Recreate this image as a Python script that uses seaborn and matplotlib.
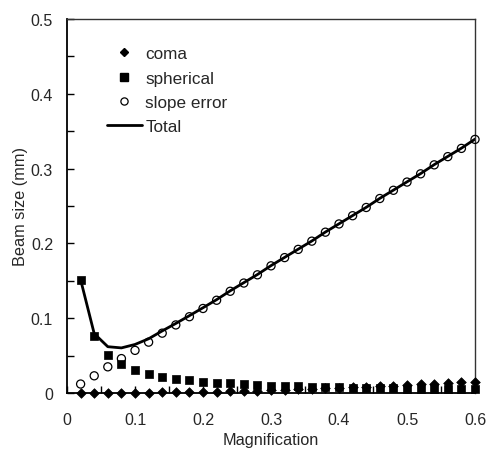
import matplotlib
matplotlib.use("Agg")
import matplotlib.pyplot as plt
import seaborn as sns
import pandas as pd
from matplotlib.lines import Line2D
from matplotlib.ticker import MultipleLocator, FuncFormatter

# valeurs
magnification = [0.02, 0.04, 0.06, 0.08, 0.10, 0.12, 0.14, 0.16, 0.18, 0.20,
                 0.22, 0.24, 0.26, 0.28, 0.30, 0.32, 0.34, 0.36, 0.38, 0.40,
                 0.42, 0.44, 0.46, 0.48, 0.50, 0.52, 0.54, 0.56, 0.58, 0.60]
coma = [0.0000, 0.0001, 0.0002, 0.0003, 0.0004, 0.0006, 0.0008, 0.0011, 0.0014, 0.0017,
        0.0020, 0.0024, 0.0028, 0.0033, 0.0038, 0.0043, 0.0049, 0.0054, 0.0061, 0.0067,
        0.0074, 0.0081, 0.0089, 0.0097, 0.0105, 0.0114, 0.0122, 0.0132, 0.0141, 0.0151]
spherical = [0.151, 0.076, 0.051, 0.039, 0.031, 0.025, 0.022, 0.019, 0.017, 0.015,
             0.014, 0.013, 0.012, 0.011, 0.010, 0.0095, 0.009, 0.0085, 0.008, 0.0076,
             0.0072, 0.0069, 0.0066, 0.0063, 0.0060, 0.0058, 0.0056, 0.0054, 0.0052, 0.0050]
slope_error = [0.012, 0.023, 0.035, 0.046, 0.057, 0.068, 0.080, 0.091, 0.102, 0.113,
               0.124, 0.136, 0.147, 0.158, 0.170, 0.181, 0.192, 0.203, 0.215, 0.226,
               0.237, 0.248, 0.260, 0.271, 0.282, 0.293, 0.305, 0.316, 0.327, 0.339]
total = [0.1515, 0.0794, 0.0619, 0.0603, 0.0649, 0.0725, 0.0830, 0.0930, 0.1034, 0.1140,
         0.1248, 0.1366, 0.1475, 0.1584, 0.1703, 0.1813, 0.1923, 0.2032, 0.2152, 0.2262,
         0.2372, 0.2482, 0.2602, 0.2712, 0.2823, 0.2933, 0.3053, 0.3163, 0.3273, 0.3394]

df = pd.DataFrame({"Magnification": magnification, "coma": coma, "spherical": spherical,
                   "slope error": slope_error, "Total": total})

sns.set_style("ticks")
plt.rcParams["font.family"] = ["Liberation Sans", "DejaVu Sans"]
text_color = "#262626"

fig = plt.figure(figsize=(4.87, 4.52), dpi=100)
ax = fig.add_axes([0.1376, 0.1283, 0.8378, 0.8275])

# courbe totale
sns.lineplot(data=df, x="Magnification", y="Total", color="black", lw=2, ax=ax, zorder=2)
# points
sns.scatterplot(data=df, x="Magnification", y="coma", marker="D", s=24, color="black",
                edgecolor="black", linewidth=0.5, ax=ax, zorder=3, clip_on=False)
sns.scatterplot(data=df, x="Magnification", y="spherical", marker="s", s=38, color="black",
                edgecolor="black", linewidth=0.5, ax=ax, zorder=3, clip_on=False)
sns.scatterplot(data=df, x="Magnification", y="slope error", marker="o", s=34, facecolors="none",
                edgecolor="black", linewidth=0.9, ax=ax, zorder=4, clip_on=False)

ax.set_xlim(0, 0.6)
ax.set_ylim(0, 0.5)
ax.xaxis.set_major_locator(MultipleLocator(0.1))
ax.xaxis.set_minor_locator(MultipleLocator(0.05))
ax.yaxis.set_major_locator(MultipleLocator(0.1))
ax.yaxis.set_minor_locator(MultipleLocator(0.05))
fmt = FuncFormatter(lambda v, p: f"{v:g}")
ax.xaxis.set_major_formatter(fmt)
ax.yaxis.set_major_formatter(fmt)
ax.tick_params(which="both", direction="in", length=5, width=1, colors="black",
               labelcolor=text_color, labelsize=11.5)
ax.tick_params(axis="x", which="both", pad=14)
ax.tick_params(axis="y", which="both", pad=10)

for side in ["left", "bottom"]:
    ax.spines[side].set_linewidth(1.3)
    ax.spines[side].set_color("black")
for side in ["top", "right"]:
    ax.spines[side].set_linewidth(1)
    ax.spines[side].set_color("#333333")

ax.set_xlabel("Magnification", fontsize=11.7, color=text_color, labelpad=3)
ax.set_ylabel("Beam size (mm)", fontsize=11.7, color=text_color, labelpad=2)

# légende
handles = [
    Line2D([], [], ls="none", marker="D", ms=4.5, color="black"),
    Line2D([], [], ls="none", marker="s", ms=5.8, color="black"),
    Line2D([], [], ls="none", marker="o", ms=5.2, mfc="none", mec="black", mew=0.9),
    Line2D([], [], color="black", lw=2),
]
leg = ax.legend(handles, ["coma", "spherical", "slope error", "Total"], frameon=False,
                loc="upper left", bbox_to_anchor=(0.076, 0.95), borderpad=0,
                handlelength=2.05, handletextpad=0.22, labelspacing=0.55, fontsize=12.3)
for t in leg.get_texts():
    t.set_color(text_color)

fig.savefig("out.png", dpi=100)
